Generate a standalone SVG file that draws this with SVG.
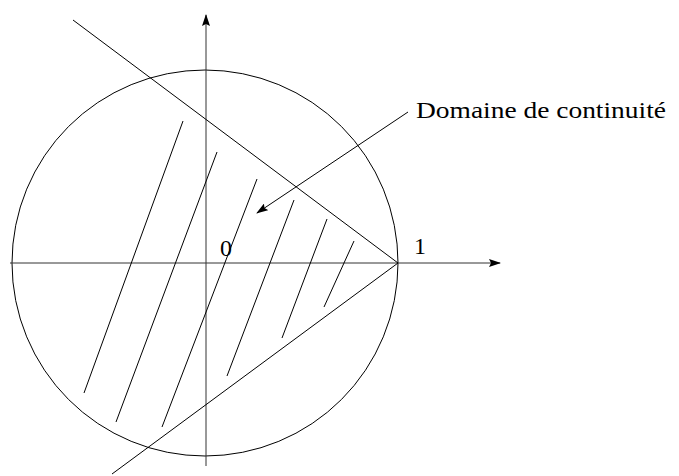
<svg xmlns="http://www.w3.org/2000/svg" width="679" height="476" viewBox="0 0 679 476">
<style>
.ln{stroke:#000;stroke-width:1;fill:none}
.ax{stroke:#333;stroke-width:1;fill:none}
.t{font-family:"Liberation Serif","DejaVu Serif",serif;font-size:24px;fill:#000}
</style>
<defs>
<marker id="ah" markerWidth="12" markerHeight="8" refX="11" refY="4" orient="auto" markerUnits="userSpaceOnUse">
<path d="M0,0 L12,4 L0,8 L2,4 Z" fill="#000"/>
</marker>
</defs>
<rect width="679" height="476" fill="#fff"/>
<g id="circle"><circle class="ln" cx="205" cy="263" r="193"/></g>
<g id="axes">
<line class="ax" x1="10" y1="263" x2="500" y2="263" marker-end="url(#ah)"/>
<line class="ax" x1="206" y1="466" x2="206" y2="15" marker-end="url(#ah)"/>
</g>
<g id="connectors">
<line class="ln" x1="73" y1="20" x2="398" y2="263"/>
<line class="ln" x1="112" y1="474" x2="398" y2="263"/>
<line class="ln" x1="408" y1="112" x2="257" y2="213" marker-end="url(#ah)"/>
</g>
<g id="hatch">
<line class="ln" x1="183" y1="121" x2="84" y2="393"/>
<line class="ln" x1="217" y1="152" x2="116" y2="422"/>
<line class="ln" x1="257" y1="179" x2="162" y2="427"/>
<line class="ln" x1="294" y1="200" x2="227" y2="376"/>
<line class="ln" x1="327" y1="219" x2="282" y2="338"/>
<line class="ln" x1="354" y1="241" x2="324" y2="307"/>
</g>
<g id="labels">
<text class="t" x="416" y="118" textLength="250" lengthAdjust="spacingAndGlyphs">Domaine de continuité</text>
<text class="t" x="220" y="256">0</text>
<text class="t" x="414" y="254">1</text>
</g>
</svg>
